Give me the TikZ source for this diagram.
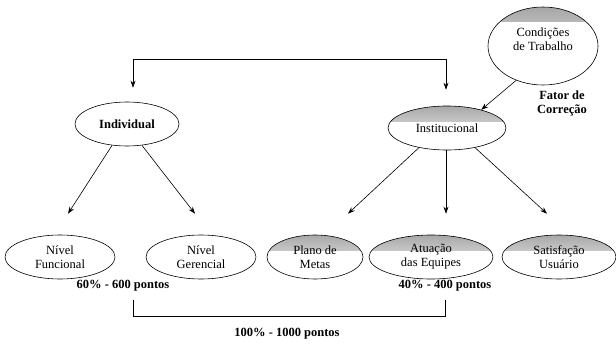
\documentclass[tikz,border=0pt]{standalone}
\usepackage{fontspec}
\setmainfont{Liberation Serif}
\usetikzlibrary{shapes.geometric,arrows.meta}
\begin{document}
\begin{tikzpicture}[x=1pt,y=-1pt,>={Stealth[length=7pt,width=5pt]},semithick,
  every node/.style={font=\fontsize{12.5}{14}\selectfont},
  oval/.style={draw,ellipse,inner sep=0pt,align=center,minimum height=44pt},
  shaded/.style={oval,path picture={
    \shade[top color=gray!70,bottom color=white]
      ([yshift=1pt]path picture bounding box.north west) rectangle ([yshift=-15pt]path picture bounding box.north east);}}]
  \useasboundingbox (0,0) rectangle (616,345);
  \node[oval,minimum width=104pt,font=\fontsize{12.5}{14}\selectfont\bfseries] (ind) at (127,124) {Individual};
  \node[shaded,minimum width=118pt] (ins) at (447,128) {Institucional};
  \node[shaded,minimum width=110pt,minimum height=78pt,text depth=14pt] (cond) at (543,46) {Condições\\de Trabalho};
  \node[oval,minimum width=110pt] (fun) at (60,257) {Nível\\Funcional};
  \node[oval,minimum width=110pt] (ger) at (201,257) {Nível\\Gerencial};
  \node[shaded,minimum width=96pt] (pla) at (315,257) {Plano de\\Metas};
  \node[shaded,minimum width=124pt] (atu) at (431,257) {Atuação\\das Equipes};
  \node[shaded,minimum width=114pt] (sat) at (559,257) {Satisfação\\Usuário};
  \node[align=center,font=\fontsize{12.5}{14}\selectfont\bfseries] (fat) at (562,103) {Fator de\\Correção};
  \node[font=\fontsize{12.5}{14}\selectfont\bfseries] (p60) at (123,286) {60\% - 600 pontos};
  \node[font=\fontsize{12.5}{14}\selectfont\bfseries] (p40) at (445,286) {40\% - 400 pontos};
  \node[font=\fontsize{12.5}{14}\selectfont\bfseries] (p100) at (287,334) {100\% - 1000 pontos};
  \draw[<->] ([xshift=6pt,yshift=14pt]ind.north) -- ++(0,-28) -| ([xshift=-1pt,yshift=16pt]ins.north);
  \draw[->] (cond.232) -- (ins.28);
  \draw[->] (ind.235) -- ([xshift=8pt,yshift=21pt]fun.north);
  \draw[->] (ind.305) -- ([xshift=-6pt,yshift=21pt]ger.north);
  \draw[->] (ins.215) -- ([xshift=33pt,yshift=21pt]pla.north);
  \draw[->] ([xshift=-1pt]ins.south) -- ([xshift=15pt,yshift=21pt]atu.north);
  \draw[->] (ins.325) -- ([xshift=-12pt,yshift=21pt]sat.north);
  \draw ([xshift=10pt,yshift=-5pt]p60.south) -- ++(0,16) -| ([yshift=-5pt]p40.south);
\end{tikzpicture}
\end{document}
